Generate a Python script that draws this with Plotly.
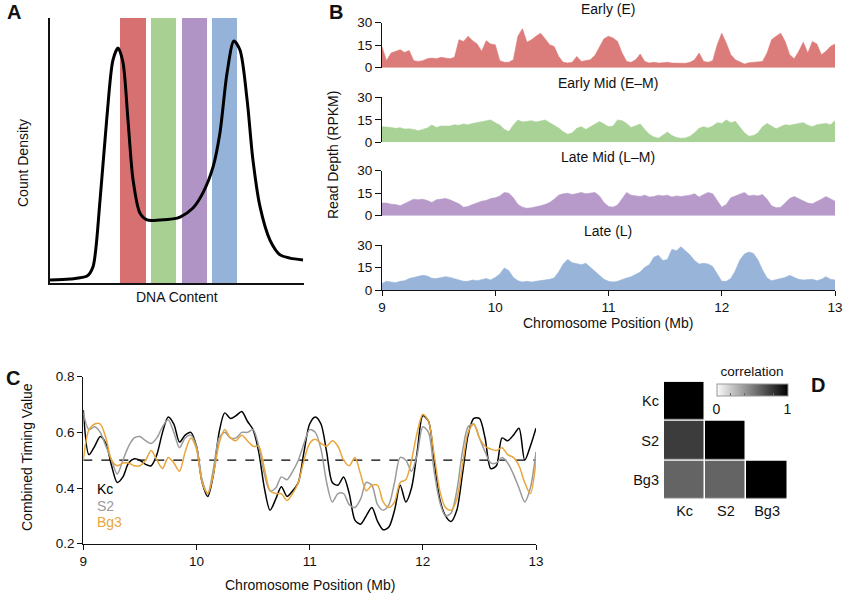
import numpy as np
import plotly.graph_objects as go

W, H = 843, 593
FONT = "Liberation Sans, Arial, Helvetica, sans-serif"

# A: DNA content profile and the four sort gates
dna_content = [0, 7.9, 14.6, 16.9, 19.7, 22.4, 24.8, 26.8, 28.7, 30.7, 32.7, 35.4, 38.2, 43.3, 48.4,
               51.2, 56.3, 60.2, 64.2, 66.9, 69.7, 72.4, 74.8, 77.6, 79.9, 82.7, 86.6, 90.6, 94.5, 99.6]
count_density = [1.1, 1.5, 2.6, 6.0, 31.3, 62.6, 84.2, 88.7, 83.4, 61.5, 38.9, 26.4, 23.8, 23.8, 24.2,
                 24.9, 28.3, 34.0, 43.8, 56.6, 79.2, 91.3, 87.9, 69.1, 46.4, 28.7, 16.2, 10.6, 9.4, 8.7]
gate_center = [32.7, 44.7, 56.9, 68.7]
gate_height = [100, 100, 100, 100]
gate_colors = ["#d77171", "#a8d092", "#b194c6", "#95b3d8"]

# B: read depth per fraction (RPKM)
track_names = ["Early (E)", "Early Mid (E\u2013M)", "Late Mid (L\u2013M)", "Late (L)"]
track_colors = ["#dc7c7a", "#a9d296", "#b79ac9", "#98b4d8"]
bin_mb = np.round(9 + 0.04 * np.arange(101), 2)
early = [14, 4.7, 9.8, 10.9, 12, 10.2, 11.5, 4.7, 4.2, 4.7,
         6, 6.4, 6, 6.9, 6.4, 6, 6.9, 18.7, 17.5, 21,
         18, 15.8, 10.9, 18, 15.8, 15.3, 4.7, 3.6, 3.6, 5.3,
         21, 26, 17, 18.7, 21, 23, 19.3, 15.3, 14.2, 7.5,
         3.6, 3.1, 3.6, 7.5, 4.2, 4.7, 5.3, 8.2, 14.2, 19.3,
         21, 19.8, 17.5, 9.8, 4.2, 3.6, 5.3, 9.1, 4.2, 3.1,
         3.6, 3.1, 3.3, 3.6, 3.1, 2.9, 3.1, 2.9, 3.6, 5.3,
         9.8, 4.2, 3.6, 4.7, 15.3, 23, 16.4, 8.7, 5.3, 3.8,
         2.4, 3.3, 3.6, 3.6, 4.2, 9.8, 18.7, 21, 23, 17.5,
         8.7, 6, 10.9, 17, 9.8, 17.5, 15.8, 8.7, 10.9, 14.2,
         15.8]
early_mid = [10.4, 10.4, 9.9, 9.3, 9.7, 8.8, 9, 8.6, 7.7, 8.6,
             9.5, 11.5, 9.9, 10.8, 11, 10.8, 11.7, 11.3, 12.2, 11.7,
             12.6, 13.1, 13.5, 14, 14.9, 13.1, 11.5, 8.6, 7.2, 11.5,
             14.9, 13.5, 14, 14.4, 13.5, 14.4, 14.9, 13.1, 11.3, 9.5,
             7, 5.4, 6.3, 9.3, 10.4, 8.6, 10.4, 12.2, 13.8, 12.2,
             10.4, 10.8, 14.9, 14.4, 12.6, 9.9, 10.8, 12.2, 8.6, 5.4,
             3.6, 2.7, 4.7, 6.8, 4.5, 3.2, 2.7, 2.9, 4.1, 6.3,
             9.3, 10.4, 9.5, 10.8, 13.1, 12.6, 14.9, 13.1, 14, 10.4,
             6.3, 4.1, 4.5, 6.3, 10.4, 12.6, 10.8, 9, 10.4, 11.7,
             11.3, 12.2, 12.6, 13.1, 11.3, 10.4, 11.7, 12.2, 12.6, 11.7,
             14.4]
late_mid = [8.4, 8.4, 7.7, 7.5, 6.6, 7.9, 9.3, 11, 10.6, 11,
            10.2, 8.8, 10.6, 11, 11.5, 10.6, 9.3, 7.9, 5.7, 6.2,
            7.5, 8.8, 9.7, 10.2, 11.5, 11.9, 13.2, 15.5, 15, 11.9,
            7.5, 5.7, 4.9, 5.3, 5.7, 6.6, 7.5, 8.8, 11, 13.7,
            14.6, 15, 14.1, 15, 15.5, 14.6, 15, 15.5, 13.2, 8.8,
            6.2, 5.7, 7.1, 11, 15.5, 13.7, 13.2, 12.8, 13.7, 12.4,
            12.8, 13.7, 13.2, 13.7, 12.4, 13.2, 12.8, 13.2, 13.7, 14.6,
            12.4, 14.1, 15.5, 14.6, 10.2, 5.7, 7.5, 11.9, 13.2, 14.6,
            15.5, 13.2, 13.7, 13.2, 14.1, 11, 6.6, 5.3, 5.7, 8.4,
            11.5, 12.8, 11.5, 9.7, 8.4, 7.9, 9.3, 11, 12.8, 11.5,
            9.7]
late = [4.4, 5.8, 5.3, 4.9, 5.8, 6.2, 7.6, 8.4, 8.9, 9.8,
        9.3, 7.8, 7.6, 8.4, 8.9, 8.4, 7.6, 7.1, 5.8, 5.8,
        6.7, 6.2, 7.1, 7.6, 6.7, 8.4, 10.7, 14.7, 12.9, 8.4,
        6.2, 5.3, 5.8, 5.3, 5.8, 6.2, 6.7, 7.1, 8, 12,
        17.3, 20.4, 18.2, 17.3, 16.9, 17.8, 15.1, 12.4, 9.8, 7.1,
        5.8, 5.3, 5.8, 7.1, 8, 8.9, 10.2, 12, 15.1, 16.9,
        21.8, 23.1, 19.6, 20.4, 27.1, 26.2, 28.9, 26.2, 23.3, 19.6,
        17.3, 17.8, 17.3, 15.6, 10.2, 5.8, 5.8, 7.6, 12.9, 20,
        24, 25.3, 24.4, 20, 13.3, 8, 6.2, 6.7, 7.6, 8.4,
        9.8, 8.4, 7.1, 6.7, 7.1, 7.1, 6.2, 7.1, 8.9, 7.1,
        6.7]

# C: combined timing value per cell line
pos_mb = np.round(9 + 0.05 * np.arange(81), 2)
kc = [0.68, 0.52, 0.55, 0.585, 0.56, 0.48, 0.42, 0.44, 0.49, 0.505,
      0.50, 0.485, 0.48, 0.52, 0.60, 0.655, 0.63, 0.565, 0.59, 0.60,
      0.55, 0.42, 0.37, 0.45, 0.60, 0.67, 0.65, 0.66, 0.675, 0.64,
      0.61, 0.53, 0.40, 0.32, 0.36, 0.405, 0.37, 0.39, 0.42, 0.53,
      0.63, 0.655, 0.63, 0.53, 0.42, 0.41, 0.44, 0.38, 0.285, 0.27,
      0.30, 0.33, 0.28, 0.25, 0.26, 0.32, 0.41, 0.35, 0.40, 0.53,
      0.66, 0.64, 0.50, 0.36, 0.30, 0.28, 0.32, 0.45, 0.59, 0.65,
      0.65, 0.58, 0.47, 0.48, 0.58, 0.57, 0.59, 0.615, 0.50, 0.55,
      0.615]
s2 = [0.67, 0.61, 0.62, 0.60, 0.55, 0.50, 0.45, 0.50, 0.55, 0.58,
      0.585, 0.57, 0.56, 0.58, 0.62, 0.645, 0.60, 0.545, 0.58, 0.59,
      0.55, 0.43, 0.38, 0.47, 0.58, 0.60, 0.58, 0.58, 0.60, 0.60,
      0.61, 0.55, 0.45, 0.39, 0.40, 0.44, 0.43, 0.46, 0.50, 0.56,
      0.61, 0.60, 0.54, 0.42, 0.35, 0.38, 0.38, 0.34, 0.33, 0.36,
      0.42, 0.41, 0.34, 0.32, 0.34, 0.42, 0.51, 0.50, 0.46, 0.52,
      0.62, 0.60, 0.46, 0.35, 0.30, 0.31, 0.39, 0.53, 0.62, 0.63,
      0.58, 0.53, 0.49, 0.49, 0.51, 0.49, 0.45, 0.40, 0.35, 0.40,
      0.53]
bg3 = [0.50, 0.61, 0.63, 0.63, 0.58, 0.50, 0.48, 0.49, 0.49, 0.48,
       0.48, 0.50, 0.535, 0.50, 0.47, 0.51, 0.49, 0.46, 0.53, 0.58,
       0.54, 0.42, 0.38, 0.45, 0.56, 0.61, 0.58, 0.57, 0.59, 0.57,
       0.55, 0.55, 0.47, 0.39, 0.38, 0.38, 0.355, 0.38, 0.42, 0.50,
       0.56, 0.575, 0.56, 0.55, 0.57, 0.55, 0.50, 0.48, 0.51, 0.45,
       0.39, 0.41, 0.41, 0.35, 0.33, 0.35, 0.42, 0.43, 0.50, 0.60,
       0.665, 0.64, 0.52, 0.39, 0.33, 0.32, 0.36, 0.48, 0.60, 0.63,
       0.58, 0.55, 0.54, 0.535, 0.545, 0.52, 0.51, 0.48, 0.42, 0.38,
       0.50]
cell_lines = ["Kc", "S2", "Bg3"]
line_colors = ["#000000", "#9b9b9b", "#e8a63c"]
midline = 0.5

# D: correlation between cell lines (lower triangle)
corr = [[1.0, None, None],
        [0.76, 1.0, None],
        [0.6, 0.6, 1.0]]


def dom_x(a, b):
    return [a / W, b / W]


def dom_y(top, bottom):
    return [1 - bottom / H, 1 - top / H]


def px(x, y):
    return dict(x=x / W, y=1 - y / H, xref="paper", yref="paper")


fig = go.Figure()

# panel A
fig.add_trace(go.Bar(x=gate_center, y=gate_height, width=10, marker_color=gate_colors,
                     marker_line_width=0, xaxis="x", yaxis="y"))
fig.add_trace(go.Scatter(x=dna_content, y=count_density, mode="lines",
                         line=dict(color="black", width=3, shape="spline", smoothing=0.8),
                         xaxis="x", yaxis="y"))

# panel B
tracks = [early, early_mid, late_mid, late]
for i, vals in enumerate(tracks):
    n = i + 2
    fig.add_trace(go.Scatter(x=bin_mb, y=vals, mode="lines", fill="tozeroy",
                             line=dict(color=track_colors[i], width=0.6),
                             fillcolor=track_colors[i], xaxis=f"x{n}", yaxis=f"y{n}"))

# panel C
fig.add_trace(go.Scatter(x=[pos_mb[0], pos_mb[-1]], y=[midline, midline], mode="lines",
                         line=dict(color="black", width=1.2, dash="dash"), xaxis="x6", yaxis="y6"))
for name, vals, col in zip(cell_lines, [kc, s2, bg3], line_colors):
    fig.add_trace(go.Scatter(x=pos_mb, y=vals, mode="lines", name=name,
                             line=dict(color=col, width=1.5, shape="spline", smoothing=0.8),
                             xaxis="x6", yaxis="y6"))

# panel D
fig.add_trace(go.Heatmap(
    z=corr, x=cell_lines, y=cell_lines, zmin=0, zmax=1, xgap=1.5, ygap=1.5,
    colorscale=[[0, "#fafafa"], [1, "#000000"]], xaxis="x7", yaxis="y7",
    colorbar=dict(orientation="h", x=752 / W, xanchor="center", y=1 - 369 / H, yanchor="top",
                  len=71, lenmode="pixels", thickness=12, xpad=0, ypad=0,
                  outlinewidth=1, outlinecolor="#999",
                  title=dict(text="correlation", side="top", font=dict(size=13.5)),
                  tickvals=[0, 0.2, 0.4, 0.6, 0.8, 1], ticktext=["0", "", "", "", "", "1"],
                  ticks="inside", ticklen=3, tickcolor="#666", tickfont=dict(size=14))))

axis_base = dict(showgrid=False, zeroline=False, linecolor="#111", linewidth=1, automargin=False,
                 tickfont=dict(size=13.5, color="#111"), tickcolor="#111")

layout = dict(
    width=W, height=H, autosize=False, showlegend=False,
    margin=dict(l=0, r=0, t=0, b=0, autoexpand=False),
    paper_bgcolor="white", plot_bgcolor="white",
    font=dict(family=FONT, size=14, color="#111"),
    bargap=0,
)
# A axes
layout["xaxis"] = dict(axis_base, domain=dom_x(50, 304), range=[0, 100], anchor="y",
                       showline=True, linewidth=1.5, showticklabels=False, ticks="")
layout["yaxis"] = dict(axis_base, domain=dom_y(18, 283), range=[0, 100], anchor="x",
                       showline=True, linewidth=1.5, showticklabels=False, ticks="")
# B axes
track_tops = [22.7, 97.3, 170.7, 245]
for i, top in enumerate(track_tops):
    n = i + 2
    last = i == len(track_tops) - 1
    layout[f"xaxis{n}"] = dict(axis_base, domain=dom_x(382, 835), range=[9, 13], anchor=f"y{n}",
                               showline=last, showticklabels=last, ticks="outside" if last else "",
                               ticklen=5, tickvals=[9, 10, 11, 12, 13])
    layout[f"yaxis{n}"] = dict(axis_base, domain=dom_y(top, top + 45), range=[0, 30], anchor=f"x{n}",
                               showline=True, ticks="outside", ticklen=6, tickvals=[0, 15, 30])
# C axes
layout["xaxis6"] = dict(axis_base, domain=dom_x(83.3, 536), range=[9, 13], anchor="y6",
                        showline=True, ticks="outside", ticklen=5, tickvals=[9, 10, 11, 12, 13])
layout["yaxis6"] = dict(axis_base, domain=dom_y(376.7, 543.7), range=[0.2, 0.8], anchor="x6",
                        showline=True, ticks="outside", ticklen=5, tickvals=[0.2, 0.4, 0.6, 0.8],
                        tickformat=".1f")
# D axes
layout["xaxis7"] = dict(axis_base, domain=dom_x(664, 787.7), anchor="y7", showline=False,
                        ticks="", tickfont=dict(size=14.5), type="category")
layout["yaxis7"] = dict(axis_base, domain=dom_y(381.7, 500), anchor="x7", showline=False,
                        ticks="", tickfont=dict(size=14.5), type="category", autorange="reversed",
                        ticklabelstandoff=4)

annotations = []


def note(text, x, y, size=14, color="#111", angle=0, bold=False):
    t = f"<b>{text}</b>" if bold else text
    annotations.append(dict(px(x, y), text=t, showarrow=False, textangle=angle,
                            font=dict(size=size, color=color), xanchor="center", yanchor="middle"))


for letter, (lx, ly) in zip("ABCD", [(14, 12), (336, 12), (13, 378), (818, 385)]):
    note(letter, lx, ly, size=20, bold=True)

note("Count Density", 23, 163, angle=-90)
note("DNA Content", 177, 297)
for name, ty in zip(track_names, [9.3, 82.7, 157.3, 231]):
    note(name, 608, ty)
note("Read Depth (RPKM)", 333, 155, angle=-90)
note("Chromosome Position (Mb)", 608, 323)
note("Combined Timing Value", 27, 457, angle=-90)
note("Chromosome Position (Mb)", 310, 585)
for name, col, ly in zip(cell_lines, line_colors, [489, 505.5, 522]):
    annotations.append(dict(px(95, ly), text=name, showarrow=False, xanchor="left", yanchor="middle",
                            font=dict(size=14, color=col)))

layout["annotations"] = annotations
fig.update_layout(layout)

# the page body carries a default margin; drop it so the figure sits at the window origin
fig.write_html("out.html", config={"displayModeBar": False},
               post_script="document.body.style.margin='0';")
